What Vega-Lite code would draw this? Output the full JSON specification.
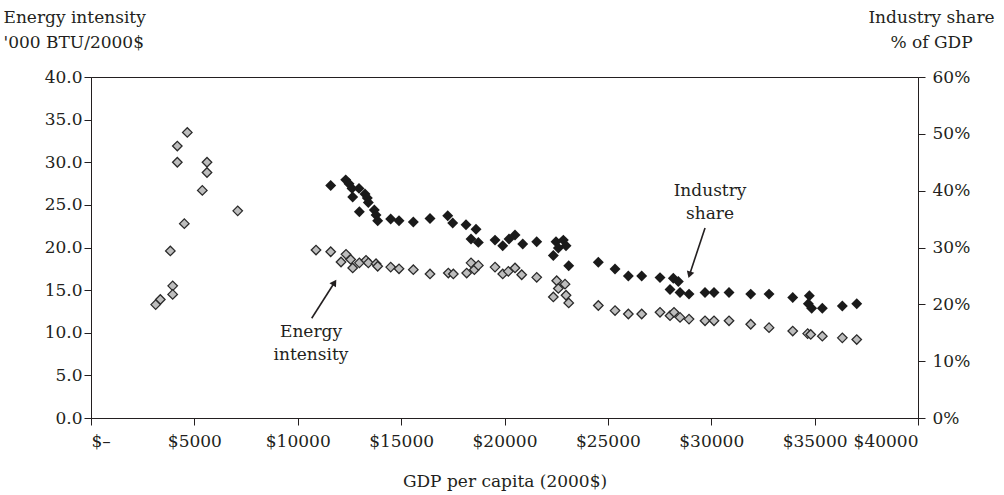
{
  "$schema": "https://vega.github.io/schema/vega-lite/v6.json",
  "width": 827,
  "height": 341,
  "autosize": {"type": "none"},
  "padding": {"left": 91, "top": 77, "right": 86, "bottom": 77},
  "background": "white",
  "config": {
    "view": {"stroke": "#231f20", "strokeWidth": 1},
    "axis": {
      "grid": false,
      "domainColor": "#231f20",
      "tickColor": "#231f20",
      "labelColor": "#231f20",
      "titleColor": "#231f20",
      "labelFont": "DejaVu Serif",
      "titleFont": "DejaVu Serif",
      "labelFontSize": 17,
      "titleFontSize": 17,
      "titleFontWeight": "normal",
      "tickSize": 7,
      "domainWidth": 1,
      "tickWidth": 1
    },
    "text": {"font": "DejaVu Serif"}
  },
  "datasets": {
    "energy": [
      {"gdp": 4658, "energy": 33.5}, {"gdp": 4175, "energy": 31.9}, {"gdp": 4175, "energy": 30.0},
      {"gdp": 5611, "energy": 30.0}, {"gdp": 5611, "energy": 28.8}, {"gdp": 5384, "energy": 26.7},
      {"gdp": 7096, "energy": 24.3}, {"gdp": 4514, "energy": 22.8}, {"gdp": 3837, "energy": 19.6},
      {"gdp": 3950, "energy": 15.5}, {"gdp": 3950, "energy": 14.5}, {"gdp": 3353, "energy": 13.9},
      {"gdp": 3128, "energy": 13.3},
      {"gdp": 10883, "energy": 19.7}, {"gdp": 11594, "energy": 19.5}, {"gdp": 12335, "energy": 19.2},
      {"gdp": 12093, "energy": 18.3}, {"gdp": 12561, "energy": 18.6}, {"gdp": 12658, "energy": 17.6},
      {"gdp": 12980, "energy": 18.2}, {"gdp": 13302, "energy": 18.5}, {"gdp": 13414, "energy": 18.2},
      {"gdp": 13786, "energy": 18.1}, {"gdp": 13866, "energy": 17.8}, {"gdp": 14495, "energy": 17.7},
      {"gdp": 14898, "energy": 17.5}, {"gdp": 15590, "energy": 17.4}, {"gdp": 16397, "energy": 16.9},
      {"gdp": 17283, "energy": 17.0}, {"gdp": 17525, "energy": 16.9}, {"gdp": 18171, "energy": 17.0},
      {"gdp": 18381, "energy": 18.2}, {"gdp": 18542, "energy": 17.4}, {"gdp": 18735, "energy": 17.9},
      {"gdp": 19542, "energy": 17.7}, {"gdp": 19914, "energy": 16.9}, {"gdp": 20186, "energy": 17.2},
      {"gdp": 20509, "energy": 17.6}, {"gdp": 20832, "energy": 16.8}, {"gdp": 21558, "energy": 16.5},
      {"gdp": 22525, "energy": 16.1}, {"gdp": 22927, "energy": 15.7}, {"gdp": 22604, "energy": 15.2},
      {"gdp": 22362, "energy": 14.2}, {"gdp": 22976, "energy": 14.4}, {"gdp": 23106, "energy": 13.5},
      {"gdp": 24538, "energy": 13.2}, {"gdp": 25346, "energy": 12.6}, {"gdp": 25990, "energy": 12.2},
      {"gdp": 26636, "energy": 12.2}, {"gdp": 27522, "energy": 12.4}, {"gdp": 28006, "energy": 12.0},
      {"gdp": 28199, "energy": 12.4}, {"gdp": 28490, "energy": 11.8}, {"gdp": 28925, "energy": 11.6},
      {"gdp": 29699, "energy": 11.4}, {"gdp": 30134, "energy": 11.4}, {"gdp": 30860, "energy": 11.4},
      {"gdp": 31909, "energy": 11.0}, {"gdp": 32795, "energy": 10.6}, {"gdp": 33941, "energy": 10.2},
      {"gdp": 34663, "energy": 9.9}, {"gdp": 34811, "energy": 9.8}, {"gdp": 35373, "energy": 9.6},
      {"gdp": 36340, "energy": 9.4}, {"gdp": 37037, "energy": 9.2}
    ],
    "share": [
      {"gdp": 11594, "share": 40.9}, {"gdp": 12320, "share": 41.9}, {"gdp": 12480, "share": 41.2},
      {"gdp": 12625, "share": 40.4}, {"gdp": 12963, "share": 40.4}, {"gdp": 12658, "share": 38.9},
      {"gdp": 13253, "share": 39.4}, {"gdp": 13365, "share": 38.7}, {"gdp": 13414, "share": 37.9},
      {"gdp": 12980, "share": 36.3}, {"gdp": 13704, "share": 36.6}, {"gdp": 13786, "share": 35.7},
      {"gdp": 13866, "share": 34.7}, {"gdp": 14495, "share": 35.0}, {"gdp": 14898, "share": 34.7},
      {"gdp": 15590, "share": 34.5}, {"gdp": 16397, "share": 35.1}, {"gdp": 17254, "share": 35.6},
      {"gdp": 17496, "share": 34.3}, {"gdp": 18139, "share": 34.0}, {"gdp": 18623, "share": 33.2},
      {"gdp": 18381, "share": 31.5}, {"gdp": 18735, "share": 30.9}, {"gdp": 19542, "share": 31.3},
      {"gdp": 19914, "share": 30.3}, {"gdp": 20219, "share": 31.5}, {"gdp": 20509, "share": 32.2},
      {"gdp": 20882, "share": 30.6}, {"gdp": 21558, "share": 31.0}, {"gdp": 22492, "share": 31.0},
      {"gdp": 22846, "share": 31.3}, {"gdp": 22976, "share": 30.3}, {"gdp": 22604, "share": 29.9},
      {"gdp": 22362, "share": 28.6}, {"gdp": 23106, "share": 26.8}, {"gdp": 24538, "share": 27.4},
      {"gdp": 25346, "share": 26.2}, {"gdp": 25990, "share": 25.0}, {"gdp": 26636, "share": 25.0},
      {"gdp": 27522, "share": 24.7}, {"gdp": 28166, "share": 24.6}, {"gdp": 28408, "share": 24.0},
      {"gdp": 28006, "share": 22.6}, {"gdp": 28490, "share": 22.1}, {"gdp": 28925, "share": 21.8},
      {"gdp": 29699, "share": 22.1}, {"gdp": 30134, "share": 22.1}, {"gdp": 30860, "share": 22.1},
      {"gdp": 31909, "share": 21.8}, {"gdp": 32795, "share": 21.8}, {"gdp": 33941, "share": 21.2},
      {"gdp": 34745, "share": 21.5}, {"gdp": 34696, "share": 20.1}, {"gdp": 34857, "share": 19.3},
      {"gdp": 35373, "share": 19.3}, {"gdp": 36340, "share": 19.7}, {"gdp": 37037, "share": 20.1}
    ],
    "arrows": [
      {"id": "e", "gdp": 10676, "energy": 11.7, "gdp2": 11778, "energy2": 15.9},
      {"id": "i", "gdp": 29699, "energy": 22.3, "gdp2": 28950, "energy2": 16.8}
    ],
    "heads": [
      {"id": "e", "gdp": 11778, "energy": 15.9},
      {"id": "i", "gdp": 28950, "energy": 16.8}
    ],
    "labels": [
      {"gdp": 10641, "energy": 9.5, "label": "Energy"},
      {"gdp": 10641, "energy": 6.8, "label": "intensity"},
      {"gdp": 29941, "energy": 26.0, "label": "Industry"},
      {"gdp": 29941, "energy": 23.3, "label": "share"}
    ]
  },
  "layer": [
    {
      "layer": [
        {
          "data": {"name": "energy"},
          "mark": {"type": "point", "shape": "diamond", "filled": true, "fill": "#bdbdbd", "stroke": "#2a2a2a", "strokeWidth": 1.3, "size": 90, "opacity": 1},
          "encoding": {
            "x": {
              "field": "gdp", "type": "quantitative",
              "scale": {"domain": [0, 40000], "nice": false},
              "axis": {
                "values": [0, 5000, 10000, 15000, 20000, 25000, 30000, 35000, 40000],
                "labelExpr": "datum.value === 0 ? '$–' : '$' + datum.value",
                "title": "GDP per capita (2000$)",
                "titleY": 68, "titleBaseline": "alphabetic",
                "labelPadding": 8, "labelBaseline": "top"
              }
            },
            "y": {
              "field": "energy", "type": "quantitative",
              "scale": {"domain": [0, 40], "nice": false},
              "axis": {
                "values": [0, 5, 10, 15, 20, 25, 30, 35, 40],
                "format": ".1f",
                "title": ["Energy intensity", "'000 BTU/2000$"],
                "titleAngle": 0, "titleAlign": "left", "titleBaseline": "alphabetic",
                "titleX": -88, "titleY": -55, "titleLineHeight": 25,
                "labelPadding": 2
              }
            }
          }
        },
        {
          "data": {"name": "arrows"},
          "mark": {"type": "rule", "color": "#231f20", "strokeWidth": 1.6},
          "encoding": {
            "x": {"field": "gdp", "type": "quantitative"},
            "y": {"field": "energy", "type": "quantitative"},
            "x2": {"field": "gdp2"},
            "y2": {"field": "energy2"}
          }
        },
        {
          "data": {"name": "heads"},
          "transform": [{"filter": "datum.id === 'e'"}],
          "mark": {"type": "point", "shape": "triangle-up", "filled": true, "color": "#231f20", "size": 60, "angle": 33, "opacity": 1},
          "encoding": {
            "x": {"field": "gdp", "type": "quantitative"},
            "y": {"field": "energy", "type": "quantitative"}
          }
        },
        {
          "data": {"name": "heads"},
          "transform": [{"filter": "datum.id === 'i'"}],
          "mark": {"type": "point", "shape": "triangle-up", "filled": true, "color": "#231f20", "size": 60, "angle": 198, "opacity": 1},
          "encoding": {
            "x": {"field": "gdp", "type": "quantitative"},
            "y": {"field": "energy", "type": "quantitative"}
          }
        },
        {
          "data": {"name": "labels"},
          "mark": {"type": "text", "font": "DejaVu Serif", "fontSize": 17, "align": "center", "baseline": "alphabetic", "color": "#231f20"},
          "encoding": {
            "x": {"field": "gdp", "type": "quantitative"},
            "y": {"field": "energy", "type": "quantitative"},
            "text": {"field": "label"}
          }
        }
      ]
    },
    {
      "data": {"name": "share"},
      "mark": {"type": "point", "shape": "diamond", "filled": true, "color": "#1a1a1a", "size": 120, "opacity": 1},
      "encoding": {
        "x": {"field": "gdp", "type": "quantitative"},
        "y": {
          "field": "share", "type": "quantitative",
          "scale": {"domain": [0, 60], "nice": false},
          "axis": {
            "orient": "right",
            "values": [0, 10, 20, 30, 40, 50, 60],
            "labelExpr": "datum.value + '%'",
            "title": ["Industry share", "% of GDP"],
            "titleAngle": 0, "titleAlign": "center", "titleBaseline": "alphabetic",
            "titleX": 13, "titleY": -55, "titleLineHeight": 25,
            "labelPadding": 7
          }
        }
      }
    }
  ],
  "resolve": {"scale": {"y": "independent"}}
}
